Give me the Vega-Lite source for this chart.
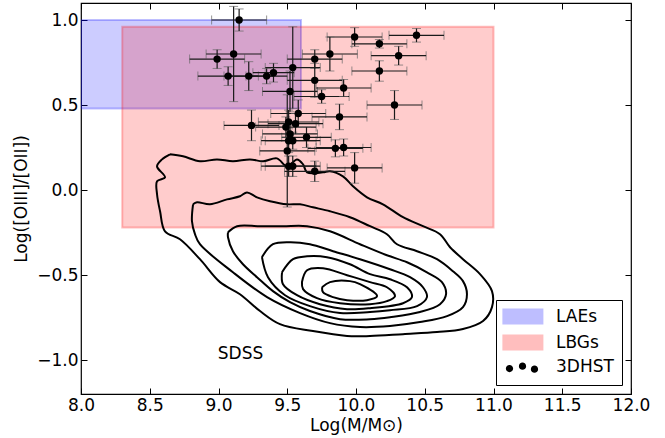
{
  "$schema": "https://vega.github.io/schema/vega-lite/v6.json",
  "width": 550,
  "height": 391,
  "autosize": {"type": "none"},
  "padding": {"left": 81, "top": 3, "right": 34, "bottom": 44},
  "config": {
    "font": "DejaVu Sans",
    "view": {"stroke": "black", "strokeWidth": 1.2},
    "axis": {"grid": false, "domain": false, "labelFlush": false, "tickColor": "black", "tickWidth": 1, "labelColor": "black", "titleColor": "black", "labelFontSize": 17, "titleFontSize": 17, "titleFontWeight": "normal", "labelFont": "DejaVu Sans", "titleFont": "DejaVu Sans"}
  },
  "datasets": {
    "boxes": [
      {"label": "LAEs", "x1": 8.0, "x2": 9.6, "y1": 0.48, "y2": 1.0},
      {"label": "LBGs", "x1": 8.3, "x2": 11.0, "y1": -0.22, "y2": 0.96}
    ],
    "hst": [
      {"label": "3DHST", "x": 9.15, "y": 1.0, "xe": 0.2, "ye": 0.065},
      {"label": "3DHST", "x": 8.99, "y": 0.77, "xe": 0.2, "ye": 0.055},
      {"label": "3DHST", "x": 9.11, "y": 0.8, "xe": 0.2, "ye": 0.28},
      {"label": "3DHST", "x": 9.07, "y": 0.67, "xe": 0.22, "ye": 0.055},
      {"label": "3DHST", "x": 9.22, "y": 0.67, "xe": 0.18, "ye": 0.085},
      {"label": "3DHST", "x": 9.35, "y": 0.67, "xe": 0.15, "ye": 0.045},
      {"label": "3DHST", "x": 9.4, "y": 0.69, "xe": 0.15, "ye": 0.055},
      {"label": "3DHST", "x": 9.54, "y": 0.72, "xe": 0.2, "ye": 0.24},
      {"label": "3DHST", "x": 9.52, "y": 0.58, "xe": 0.2, "ye": 0.12},
      {"label": "3DHST", "x": 9.24, "y": 0.38, "xe": 0.2, "ye": 0.09},
      {"label": "3DHST", "x": 9.58, "y": 0.45, "xe": 0.2, "ye": 0.08},
      {"label": "3DHST", "x": 9.51, "y": 0.4, "xe": 0.22, "ye": 0.07},
      {"label": "3DHST", "x": 9.56, "y": 0.39, "xe": 0.2, "ye": 0.06},
      {"label": "3DHST", "x": 9.49, "y": 0.37, "xe": 0.22, "ye": 0.06},
      {"label": "3DHST", "x": 9.52, "y": 0.33, "xe": 0.2, "ye": 0.05},
      {"label": "3DHST", "x": 9.64, "y": 0.31, "xe": 0.18, "ye": 0.06},
      {"label": "3DHST", "x": 9.51, "y": 0.29, "xe": 0.2, "ye": 0.07},
      {"label": "3DHST", "x": 9.54, "y": 0.29, "xe": 0.2, "ye": 0.05},
      {"label": "3DHST", "x": 9.5, "y": 0.23, "xe": 0.2, "ye": 0.33},
      {"label": "3DHST", "x": 9.51, "y": 0.14, "xe": 0.2, "ye": 0.06},
      {"label": "3DHST", "x": 9.54, "y": 0.14, "xe": 0.2, "ye": 0.06},
      {"label": "3DHST", "x": 9.7, "y": 0.11, "xe": 0.22, "ye": 0.06},
      {"label": "3DHST", "x": 9.7, "y": 0.77, "xe": 0.2, "ye": 0.055},
      {"label": "3DHST", "x": 9.7, "y": 0.645, "xe": 0.2, "ye": 0.1},
      {"label": "3DHST", "x": 9.75, "y": 0.55, "xe": 0.2, "ye": 0.04},
      {"label": "3DHST", "x": 9.81, "y": 0.8, "xe": 0.2, "ye": 0.1},
      {"label": "3DHST", "x": 9.99, "y": 0.9, "xe": 0.2, "ye": 0.055},
      {"label": "3DHST", "x": 10.17, "y": 0.86, "xe": 0.2, "ye": 0.025},
      {"label": "3DHST", "x": 10.44, "y": 0.91, "xe": 0.2, "ye": 0.04},
      {"label": "3DHST", "x": 10.31, "y": 0.79, "xe": 0.2, "ye": 0.055},
      {"label": "3DHST", "x": 10.17, "y": 0.7, "xe": 0.2, "ye": 0.06},
      {"label": "3DHST", "x": 9.91, "y": 0.6, "xe": 0.2, "ye": 0.05},
      {"label": "3DHST", "x": 10.28, "y": 0.5, "xe": 0.2, "ye": 0.085},
      {"label": "3DHST", "x": 9.88, "y": 0.43, "xe": 0.2, "ye": 0.075},
      {"label": "3DHST", "x": 9.85, "y": 0.245, "xe": 0.2, "ye": 0.05},
      {"label": "3DHST", "x": 9.91, "y": 0.25, "xe": 0.2, "ye": 0.05},
      {"label": "3DHST", "x": 9.99, "y": 0.13, "xe": 0.2, "ye": 0.09}
    ],
    "sdss": [
      {"c": 1, "i": 0, "x": 8.647, "y": 0.21},
      {"c": 1, "i": 1, "x": 8.742, "y": 0.198},
      {"c": 1, "i": 2, "x": 8.865, "y": 0.169},
      {"c": 1, "i": 3, "x": 8.989, "y": 0.18},
      {"c": 1, "i": 4, "x": 9.105, "y": 0.169},
      {"c": 1, "i": 5, "x": 9.229, "y": 0.18},
      {"c": 1, "i": 6, "x": 9.324, "y": 0.169},
      {"c": 1, "i": 7, "x": 9.425, "y": 0.186},
      {"c": 1, "i": 8, "x": 9.498, "y": 0.139},
      {"c": 1, "i": 9, "x": 9.571, "y": 0.18},
      {"c": 1, "i": 10, "x": 9.615, "y": 0.151},
      {"c": 1, "i": 11, "x": 9.644, "y": 0.104},
      {"c": 1, "i": 12, "x": 9.76, "y": 0.104},
      {"c": 1, "i": 13, "x": 9.811, "y": 0.11},
      {"c": 1, "i": 14, "x": 9.905, "y": 0.08},
      {"c": 1, "i": 15, "x": 9.978, "y": 0.022},
      {"c": 1, "i": 16, "x": 10.08, "y": -0.043},
      {"c": 1, "i": 17, "x": 10.196, "y": -0.084},
      {"c": 1, "i": 18, "x": 10.342, "y": -0.16},
      {"c": 1, "i": 19, "x": 10.487, "y": -0.213},
      {"c": 1, "i": 20, "x": 10.611, "y": -0.26},
      {"c": 1, "i": 21, "x": 10.684, "y": -0.337},
      {"c": 1, "i": 22, "x": 10.778, "y": -0.407},
      {"c": 1, "i": 23, "x": 10.902, "y": -0.495},
      {"c": 1, "i": 24, "x": 10.989, "y": -0.595},
      {"c": 1, "i": 25, "x": 10.989, "y": -0.689},
      {"c": 1, "i": 26, "x": 10.924, "y": -0.771},
      {"c": 1, "i": 27, "x": 10.778, "y": -0.818},
      {"c": 1, "i": 28, "x": 10.589, "y": -0.836},
      {"c": 1, "i": 29, "x": 10.342, "y": -0.848},
      {"c": 1, "i": 30, "x": 10.102, "y": -0.859},
      {"c": 1, "i": 31, "x": 9.935, "y": -0.859},
      {"c": 1, "i": 32, "x": 9.687, "y": -0.83},
      {"c": 1, "i": 33, "x": 9.447, "y": -0.789},
      {"c": 1, "i": 34, "x": 9.302, "y": -0.712},
      {"c": 1, "i": 35, "x": 9.156, "y": -0.613},
      {"c": 1, "i": 36, "x": 9.011, "y": -0.542},
      {"c": 1, "i": 37, "x": 8.865, "y": -0.407},
      {"c": 1, "i": 38, "x": 8.72, "y": -0.29},
      {"c": 1, "i": 39, "x": 8.611, "y": -0.243},
      {"c": 1, "i": 40, "x": 8.575, "y": -0.125},
      {"c": 1, "i": 41, "x": 8.553, "y": -0.025},
      {"c": 1, "i": 42, "x": 8.553, "y": 0.051},
      {"c": 1, "i": 43, "x": 8.611, "y": 0.075},
      {"c": 1, "i": 44, "x": 8.553, "y": 0.139},
      {"c": 1, "i": 45, "x": 8.589, "y": 0.18},
      {"c": 1, "i": 46, "x": 8.647, "y": 0.21},
      {"c": 2, "i": 0, "x": 8.815, "y": -0.084},
      {"c": 2, "i": 1, "x": 8.844, "y": -0.072},
      {"c": 2, "i": 2, "x": 8.938, "y": -0.084},
      {"c": 2, "i": 3, "x": 9.062, "y": -0.055},
      {"c": 2, "i": 4, "x": 9.156, "y": -0.037},
      {"c": 2, "i": 5, "x": 9.207, "y": -0.014},
      {"c": 2, "i": 6, "x": 9.28, "y": -0.043},
      {"c": 2, "i": 7, "x": 9.375, "y": -0.066},
      {"c": 2, "i": 8, "x": 9.498, "y": -0.084},
      {"c": 2, "i": 9, "x": 9.593, "y": -0.084},
      {"c": 2, "i": 10, "x": 9.687, "y": -0.102},
      {"c": 2, "i": 11, "x": 9.811, "y": -0.125},
      {"c": 2, "i": 12, "x": 9.956, "y": -0.16},
      {"c": 2, "i": 13, "x": 10.102, "y": -0.213},
      {"c": 2, "i": 14, "x": 10.225, "y": -0.26},
      {"c": 2, "i": 15, "x": 10.298, "y": -0.319},
      {"c": 2, "i": 16, "x": 10.444, "y": -0.36},
      {"c": 2, "i": 17, "x": 10.589, "y": -0.407},
      {"c": 2, "i": 18, "x": 10.705, "y": -0.478},
      {"c": 2, "i": 19, "x": 10.778, "y": -0.536},
      {"c": 2, "i": 20, "x": 10.807, "y": -0.613},
      {"c": 2, "i": 21, "x": 10.778, "y": -0.689},
      {"c": 2, "i": 22, "x": 10.662, "y": -0.742},
      {"c": 2, "i": 23, "x": 10.465, "y": -0.777},
      {"c": 2, "i": 24, "x": 10.247, "y": -0.8},
      {"c": 2, "i": 25, "x": 10.029, "y": -0.806},
      {"c": 2, "i": 26, "x": 9.811, "y": -0.783},
      {"c": 2, "i": 27, "x": 9.593, "y": -0.724},
      {"c": 2, "i": 28, "x": 9.353, "y": -0.63},
      {"c": 2, "i": 29, "x": 9.105, "y": -0.484},
      {"c": 2, "i": 30, "x": 8.865, "y": -0.319},
      {"c": 2, "i": 31, "x": 8.829, "y": -0.26},
      {"c": 2, "i": 32, "x": 8.807, "y": -0.184},
      {"c": 2, "i": 33, "x": 8.815, "y": -0.084},
      {"c": 3, "i": 0, "x": 9.069, "y": -0.249},
      {"c": 3, "i": 1, "x": 9.135, "y": -0.213},
      {"c": 3, "i": 2, "x": 9.302, "y": -0.213},
      {"c": 3, "i": 3, "x": 9.469, "y": -0.213},
      {"c": 3, "i": 4, "x": 9.644, "y": -0.213},
      {"c": 3, "i": 5, "x": 9.811, "y": -0.243},
      {"c": 3, "i": 6, "x": 10.029, "y": -0.319},
      {"c": 3, "i": 7, "x": 10.225, "y": -0.384},
      {"c": 3, "i": 8, "x": 10.371, "y": -0.425},
      {"c": 3, "i": 9, "x": 10.516, "y": -0.484},
      {"c": 3, "i": 10, "x": 10.625, "y": -0.542},
      {"c": 3, "i": 11, "x": 10.655, "y": -0.613},
      {"c": 3, "i": 12, "x": 10.611, "y": -0.672},
      {"c": 3, "i": 13, "x": 10.465, "y": -0.718},
      {"c": 3, "i": 14, "x": 10.247, "y": -0.748},
      {"c": 3, "i": 15, "x": 10.102, "y": -0.76},
      {"c": 3, "i": 16, "x": 9.884, "y": -0.76},
      {"c": 3, "i": 17, "x": 9.665, "y": -0.712},
      {"c": 3, "i": 18, "x": 9.52, "y": -0.66},
      {"c": 3, "i": 19, "x": 9.396, "y": -0.595},
      {"c": 3, "i": 20, "x": 9.28, "y": -0.513},
      {"c": 3, "i": 21, "x": 9.178, "y": -0.437},
      {"c": 3, "i": 22, "x": 9.105, "y": -0.36},
      {"c": 3, "i": 23, "x": 9.069, "y": -0.278},
      {"c": 3, "i": 24, "x": 9.069, "y": -0.249},
      {"c": 4, "i": 0, "x": 9.316, "y": -0.395},
      {"c": 4, "i": 1, "x": 9.396, "y": -0.319},
      {"c": 4, "i": 2, "x": 9.52, "y": -0.307},
      {"c": 4, "i": 3, "x": 9.665, "y": -0.319},
      {"c": 4, "i": 4, "x": 9.833, "y": -0.36},
      {"c": 4, "i": 5, "x": 10.029, "y": -0.407},
      {"c": 4, "i": 6, "x": 10.247, "y": -0.466},
      {"c": 4, "i": 7, "x": 10.393, "y": -0.513},
      {"c": 4, "i": 8, "x": 10.487, "y": -0.572},
      {"c": 4, "i": 9, "x": 10.516, "y": -0.63},
      {"c": 4, "i": 10, "x": 10.444, "y": -0.683},
      {"c": 4, "i": 11, "x": 10.247, "y": -0.707},
      {"c": 4, "i": 12, "x": 10.102, "y": -0.718},
      {"c": 4, "i": 13, "x": 9.884, "y": -0.724},
      {"c": 4, "i": 14, "x": 9.665, "y": -0.683},
      {"c": 4, "i": 15, "x": 9.484, "y": -0.619},
      {"c": 4, "i": 16, "x": 9.36, "y": -0.513},
      {"c": 4, "i": 17, "x": 9.316, "y": -0.395},
      {"c": 5, "i": 0, "x": 9.462, "y": -0.484},
      {"c": 5, "i": 1, "x": 9.542, "y": -0.407},
      {"c": 5, "i": 2, "x": 9.644, "y": -0.39},
      {"c": 5, "i": 3, "x": 9.789, "y": -0.395},
      {"c": 5, "i": 4, "x": 9.956, "y": -0.437},
      {"c": 5, "i": 5, "x": 10.102, "y": -0.495},
      {"c": 5, "i": 6, "x": 10.247, "y": -0.525},
      {"c": 5, "i": 7, "x": 10.371, "y": -0.572},
      {"c": 5, "i": 8, "x": 10.407, "y": -0.63},
      {"c": 5, "i": 9, "x": 10.342, "y": -0.666},
      {"c": 5, "i": 10, "x": 10.102, "y": -0.695},
      {"c": 5, "i": 11, "x": 9.935, "y": -0.701},
      {"c": 5, "i": 12, "x": 9.738, "y": -0.672},
      {"c": 5, "i": 13, "x": 9.571, "y": -0.619},
      {"c": 5, "i": 14, "x": 9.469, "y": -0.554},
      {"c": 5, "i": 15, "x": 9.462, "y": -0.484},
      {"c": 6, "i": 0, "x": 9.607, "y": -0.542},
      {"c": 6, "i": 1, "x": 9.644, "y": -0.472},
      {"c": 6, "i": 2, "x": 9.76, "y": -0.46},
      {"c": 6, "i": 3, "x": 9.935, "y": -0.501},
      {"c": 6, "i": 4, "x": 10.102, "y": -0.542},
      {"c": 6, "i": 5, "x": 10.225, "y": -0.572},
      {"c": 6, "i": 6, "x": 10.284, "y": -0.624},
      {"c": 6, "i": 7, "x": 10.225, "y": -0.654},
      {"c": 6, "i": 8, "x": 10.102, "y": -0.672},
      {"c": 6, "i": 9, "x": 9.884, "y": -0.666},
      {"c": 6, "i": 10, "x": 9.716, "y": -0.636},
      {"c": 6, "i": 11, "x": 9.615, "y": -0.583},
      {"c": 6, "i": 12, "x": 9.607, "y": -0.542},
      {"c": 7, "i": 0, "x": 9.753, "y": -0.572},
      {"c": 7, "i": 1, "x": 9.811, "y": -0.542},
      {"c": 7, "i": 2, "x": 9.956, "y": -0.536},
      {"c": 7, "i": 3, "x": 10.029, "y": -0.554},
      {"c": 7, "i": 4, "x": 10.153, "y": -0.624},
      {"c": 7, "i": 5, "x": 10.08, "y": -0.648},
      {"c": 7, "i": 6, "x": 9.935, "y": -0.648},
      {"c": 7, "i": 7, "x": 9.833, "y": -0.63},
      {"c": 7, "i": 8, "x": 9.76, "y": -0.601},
      {"c": 7, "i": 9, "x": 9.753, "y": -0.572}
    ]
  },
  "resolve": {"axis": {"x": "independent", "y": "independent"}},
  "layer": [
    {
      "data": {"name": "boxes"},
      "mark": {"type": "rect", "fillOpacity": 0.2, "strokeOpacity": 0.25, "strokeWidth": 2, "clip": true,
        "stroke": {"expr": "datum.label === 'LAEs' ? '#0000ff' : datum.label === 'LBGs' ? '#ff0000' : 'transparent'"}},
      "encoding": {
        "x": {"field": "x1", "type": "quantitative", "scale": {"domain": [8, 12], "nice": false, "zero": false},
          "axis": {"orient": "bottom", "values": [8, 8.5, 9, 9.5, 10, 10.5, 11, 11.5, 12], "format": ".1f", "tickSize": -6, "labelPadding": 9, "title": "Log(M/M⊙)", "titlePadding": 4}},
        "x2": {"field": "x2"},
        "y": {"field": "y1", "type": "quantitative", "scale": {"domain": [-1.2, 1.1], "nice": false, "zero": false},
          "axis": {"orient": "left", "values": [-1, -0.5, 0, 0.5, 1], "format": ".1f", "tickSize": -6, "labelPadding": 9, "title": "Log([OIII]/[OII])", "titlePadding": 6}},
        "y2": {"field": "y2"},
        "color": {"field": "label", "type": "nominal",
          "scale": {"domain": ["LAEs", "LBGs", "3DHST"], "range": ["#0000ff", "#ff0000", "#000000"]},
          "legend": {
            "title": null,
            "orient": "bottom-right",
            "offset": 9,
            "padding": 8,
            "strokeColor": "black",
            "fillColor": "white",
            "labelFont": "DejaVu Sans",
            "labelFontSize": 17,
            "labelColor": "black",
            "labelOffset": 35,
            "rowPadding": 3,
            "symbolSize": 196,
            "symbolStrokeWidth": 2,
            "symbolOpacity": {"expr": "datum.label === '3DHST' ? 1 : 0.25"},
            "symbolType": {"expr": "datum.label === '3DHST' ? 'M-0.95,0.29A0.52,0.52 0 1,0 0.09,0.29A0.52,0.52 0 1,0 -0.95,0.29Z M0.91,-0.04A0.52,0.52 0 1,0 1.95,-0.04A0.52,0.52 0 1,0 0.91,-0.04Z M2.62,0.39A0.52,0.52 0 1,0 3.66,0.39A0.52,0.52 0 1,0 2.62,0.39Z' : 'M-1.3,-1H4.27V1H-1.3Z'"}
          }
        }
      }
    },
    {
      "data": {"name": "sdss"},
      "mark": {"type": "line", "color": "black", "strokeWidth": 2, "interpolate": "catmull-rom", "clip": true},
      "encoding": {
        "x": {"field": "x", "type": "quantitative", "axis": null},
        "y": {"field": "y", "type": "quantitative", "axis": null},
        "detail": {"field": "c", "type": "nominal"},
        "order": {"field": "i", "type": "quantitative"}
      }
    },
    {
      "data": {"name": "hst"},
      "mark": {"type": "errorbar", "ticks": {"size": 9, "color": "#666666"}, "rule": {"color": "#1a1a1a", "strokeWidth": 1.2}},
      "encoding": {
        "x": {"field": "x", "type": "quantitative", "axis": null},
        "xError": {"field": "xe"},
        "y": {"field": "y", "type": "quantitative", "axis": null}
      }
    },
    {
      "data": {"name": "hst"},
      "mark": {"type": "errorbar", "ticks": {"size": 9, "color": "#666666"}, "rule": {"color": "#1a1a1a", "strokeWidth": 1.2}},
      "encoding": {
        "y": {"field": "y", "type": "quantitative", "axis": null},
        "yError": {"field": "ye"},
        "x": {"field": "x", "type": "quantitative", "axis": null}
      }
    },
    {
      "data": {"name": "hst"},
      "mark": {"type": "point", "filled": true, "size": 55, "opacity": 1},
      "encoding": {
        "x": {"field": "x", "type": "quantitative", "axis": null},
        "y": {"field": "y", "type": "quantitative", "axis": null},
        "color": {"field": "label", "type": "nominal"}
      }
    },
    {
      "data": {"values": [{"x": 9.16, "y": -0.965, "t": "SDSS"}]},
      "mark": {"type": "text", "fontSize": 17, "color": "black", "font": "DejaVu Sans"},
      "encoding": {
        "x": {"field": "x", "type": "quantitative",
          "axis": {"orient": "top", "values": [8, 8.5, 9, 9.5, 10, 10.5, 11, 11.5, 12], "labels": false, "title": null, "tickSize": -6}},
        "y": {"field": "y", "type": "quantitative",
          "axis": {"orient": "right", "values": [-1, -0.5, 0, 0.5, 1], "labels": false, "title": null, "tickSize": -6}},
        "text": {"field": "t"}
      }
    }
  ]
}
